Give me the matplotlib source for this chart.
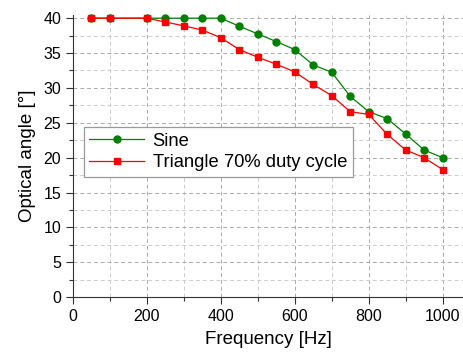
import matplotlib.pyplot as plt
from matplotlib.ticker import MultipleLocator

plt.rcParams['font.family'] = ['Liberation Sans', 'DejaVu Sans']

# Sine drive
sine_freq = [50, 100, 200, 250, 300, 350, 400, 450, 500, 550, 600, 650, 700, 750, 800, 850, 900, 950, 1000]
sine_angle = [40, 40, 40, 40, 40, 40, 40, 38.85, 37.75, 36.65, 35.5, 33.3, 32.25, 28.8, 26.6, 25.6, 23.4, 21.1, 20.0]

# Triangle drive, 70% duty cycle
tri_freq = [50, 100, 200, 250, 300, 350, 400, 450, 500, 550, 600, 650, 700, 750, 800, 850, 900, 950, 1000]
tri_angle = [40, 40, 40, 39.45, 38.9, 38.3, 37.2, 35.5, 34.4, 33.4, 32.3, 30.5, 28.9, 26.6, 26.2, 23.35, 21.1, 20.0, 18.3]

fig = plt.figure(figsize=(4.64, 3.58), dpi=100)
ax = fig.add_axes([0.157, 0.170, 0.843, 0.788])

ax.plot(sine_freq, sine_angle, color='#008000', lw=0.9, marker='o', ms=5,
        label='Sine', clip_on=False, zorder=3)
ax.plot(tri_freq, tri_angle, color='#ff0000', lw=0.9, marker='s', ms=5,
        label='Triangle 70% duty cycle', clip_on=False, zorder=4)

ax.set_xlim(0, 1058)
ax.set_ylim(0, 40.45)
ax.xaxis.set_major_locator(MultipleLocator(200))
ax.xaxis.set_minor_locator(MultipleLocator(100))
ax.yaxis.set_major_locator(MultipleLocator(5))
ax.yaxis.set_minor_locator(MultipleLocator(2.5))

ax.grid(which='major', ls=(0, (4, 3)), color='#aaaaaa', lw=0.7)
ax.grid(which='minor', ls=(0, (4, 3)), color='#cccccc', lw=0.7)
ax.set_axisbelow(True)

for side in ['top', 'right']:
    ax.spines[side].set_visible(False)
for side in ['left', 'bottom']:
    ax.spines[side].set_color('#333333')

ax.tick_params(which='major', direction='out', length=5, width=0.8, labelsize=11.5, colors='#333333', labelcolor='black')
ax.tick_params(which='minor', direction='out', length=3, width=0.8, colors='#333333')

ax.set_xlabel('Frequency [Hz]', fontsize=13.5, labelpad=5)
ax.set_ylabel('Optical angle [°]', fontsize=13.5, labelpad=5)

leg = ax.legend(loc='upper left', bbox_to_anchor=(0.028, 0.603), borderaxespad=0,
                fontsize=13.2, handlelength=3, fancybox=False, framealpha=1,
                edgecolor='#999999', borderpad=0.3, labelspacing=0.25, handletextpad=0.45)
leg.get_frame().set_linewidth(0.9)

fig.savefig('out.png', dpi=100)
